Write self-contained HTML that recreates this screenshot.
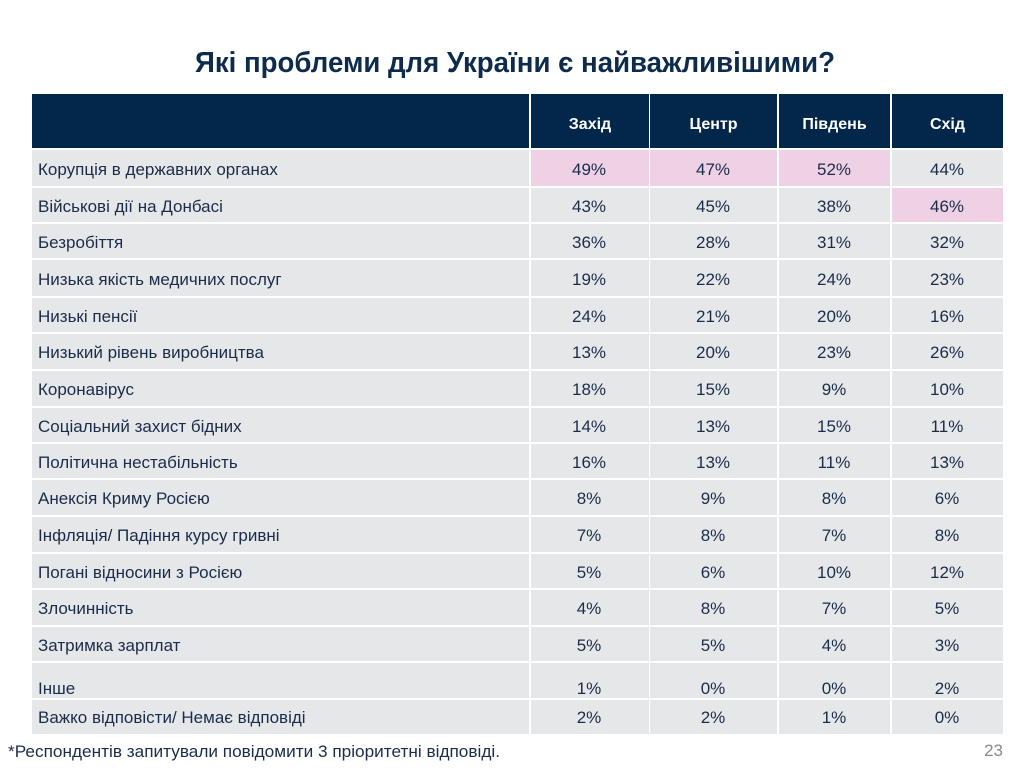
<!DOCTYPE html>
<html><head><meta charset="utf-8">
<style>
html,body{margin:0;padding:0;background:#fff;}
svg{display:block;}
text{font-family:"Liberation Sans","DejaVu Sans",sans-serif;}
</style></head>
<body>
<svg width="1024" height="768" viewBox="0 0 1024 768" xmlns="http://www.w3.org/2000/svg">
<rect width="1024" height="768" fill="#fff"/>
<text x="515" y="72" text-anchor="middle" font-size="29" font-weight="bold" fill="#0c2b4d" textLength="640" lengthAdjust="spacingAndGlyphs">Які проблеми для України є найважливішими?</text>

<!-- header -->
<g fill="#02274b">
<rect x="32" y="94" width="497" height="54"/>
<rect x="531" y="94" width="118" height="54"/>
<rect x="650" y="94" width="127" height="54"/>
<rect x="779" y="94" width="111" height="54"/>
<rect x="892" y="94" width="111" height="54"/>
</g>
<g fill="#fff" font-size="16" font-weight="bold" text-anchor="middle">
<text x="590" y="129">Захід</text>
<text x="713.5" y="129">Центр</text>
<text x="834.5" y="129">Південь</text>
<text x="947.5" y="129">Схід</text>
</g>

<!-- body rows -->
<g id="rows">
</g>
<g fill="#e6e7e9">
<!-- row boundaries: 150,188,224,260,298,334,371,408,444,480,517,554,590,627,663,700,734 -->
<rect x="32" y="150" width="497" height="36"/><rect x="531" y="150" width="118" height="36" fill="#eed1e4"/><rect x="650" y="150" width="127" height="36" fill="#eed1e4"/><rect x="779" y="150" width="111" height="36" fill="#eed1e4"/><rect x="892" y="150" width="111" height="36"/>
<rect x="32" y="188" width="497" height="34"/><rect x="531" y="188" width="118" height="34"/><rect x="650" y="188" width="127" height="34"/><rect x="779" y="188" width="111" height="34"/><rect x="892" y="188" width="111" height="34" fill="#eed1e4"/>
<rect x="32" y="224" width="497" height="34"/><rect x="531" y="224" width="118" height="34"/><rect x="650" y="224" width="127" height="34"/><rect x="779" y="224" width="111" height="34"/><rect x="892" y="224" width="111" height="34"/>
<rect x="32" y="260" width="497" height="36"/><rect x="531" y="260" width="118" height="36"/><rect x="650" y="260" width="127" height="36"/><rect x="779" y="260" width="111" height="36"/><rect x="892" y="260" width="111" height="36"/>
<rect x="32" y="298" width="497" height="34"/><rect x="531" y="298" width="118" height="34"/><rect x="650" y="298" width="127" height="34"/><rect x="779" y="298" width="111" height="34"/><rect x="892" y="298" width="111" height="34"/>
<rect x="32" y="334" width="497" height="35"/><rect x="531" y="334" width="118" height="35"/><rect x="650" y="334" width="127" height="35"/><rect x="779" y="334" width="111" height="35"/><rect x="892" y="334" width="111" height="35"/>
<rect x="32" y="371" width="497" height="35"/><rect x="531" y="371" width="118" height="35"/><rect x="650" y="371" width="127" height="35"/><rect x="779" y="371" width="111" height="35"/><rect x="892" y="371" width="111" height="35"/>
<rect x="32" y="408" width="497" height="34"/><rect x="531" y="408" width="118" height="34"/><rect x="650" y="408" width="127" height="34"/><rect x="779" y="408" width="111" height="34"/><rect x="892" y="408" width="111" height="34"/>
<rect x="32" y="444" width="497" height="34"/><rect x="531" y="444" width="118" height="34"/><rect x="650" y="444" width="127" height="34"/><rect x="779" y="444" width="111" height="34"/><rect x="892" y="444" width="111" height="34"/>
<rect x="32" y="480" width="497" height="35"/><rect x="531" y="480" width="118" height="35"/><rect x="650" y="480" width="127" height="35"/><rect x="779" y="480" width="111" height="35"/><rect x="892" y="480" width="111" height="35"/>
<rect x="32" y="517" width="497" height="35"/><rect x="531" y="517" width="118" height="35"/><rect x="650" y="517" width="127" height="35"/><rect x="779" y="517" width="111" height="35"/><rect x="892" y="517" width="111" height="35"/>
<rect x="32" y="554" width="497" height="34"/><rect x="531" y="554" width="118" height="34"/><rect x="650" y="554" width="127" height="34"/><rect x="779" y="554" width="111" height="34"/><rect x="892" y="554" width="111" height="34"/>
<rect x="32" y="590" width="497" height="35"/><rect x="531" y="590" width="118" height="35"/><rect x="650" y="590" width="127" height="35"/><rect x="779" y="590" width="111" height="35"/><rect x="892" y="590" width="111" height="35"/>
<rect x="32" y="627" width="497" height="34"/><rect x="531" y="627" width="118" height="34"/><rect x="650" y="627" width="127" height="34"/><rect x="779" y="627" width="111" height="34"/><rect x="892" y="627" width="111" height="34"/>
<rect x="32" y="663" width="497" height="35"/><rect x="531" y="663" width="118" height="35"/><rect x="650" y="663" width="127" height="35"/><rect x="779" y="663" width="111" height="35"/><rect x="892" y="663" width="111" height="35"/>
<rect x="32" y="700" width="497" height="34"/><rect x="531" y="700" width="118" height="34"/><rect x="650" y="700" width="127" height="34"/><rect x="779" y="700" width="111" height="34"/><rect x="892" y="700" width="111" height="34"/>
</g>

<g fill="#1b2c4a" font-size="17">
<text x="38" y="175">Корупція в державних органах</text>
<text x="38" y="212">Військові дії на Донбасі</text>
<text x="38" y="248">Безробіття</text>
<text x="38" y="285">Низька якість медичних послуг</text>
<text x="38" y="322">Низькі пенсії</text>
<text x="38" y="358">Низький рівень виробництва</text>
<text x="38" y="395">Коронавірус</text>
<text x="38" y="432">Соціальний захист бідних</text>
<text x="38" y="468">Політична нестабільність</text>
<text x="38" y="504">Анексія Криму Росією</text>
<text x="38" y="541">Інфляція/ Падіння курсу гривні</text>
<text x="38" y="578">Погані відносини з Росією</text>
<text x="38" y="614">Злочинність</text>
<text x="38" y="651">Затримка зарплат</text>
<text x="38" y="694">Інше</text>
<text x="38" y="723">Важко відповісти/ Немає відповіді</text>
</g>

<g fill="#1b2c4a" font-size="17" text-anchor="middle">
<text x="589" y="175">49%</text><text x="713" y="175">47%</text><text x="834" y="175">52%</text><text x="947" y="175">44%</text>
<text x="589" y="212">43%</text><text x="713" y="212">45%</text><text x="834" y="212">38%</text><text x="947" y="212">46%</text>
<text x="589" y="248">36%</text><text x="713" y="248">28%</text><text x="834" y="248">31%</text><text x="947" y="248">32%</text>
<text x="589" y="285">19%</text><text x="713" y="285">22%</text><text x="834" y="285">24%</text><text x="947" y="285">23%</text>
<text x="589" y="322">24%</text><text x="713" y="322">21%</text><text x="834" y="322">20%</text><text x="947" y="322">16%</text>
<text x="589" y="358">13%</text><text x="713" y="358">20%</text><text x="834" y="358">23%</text><text x="947" y="358">26%</text>
<text x="589" y="395">18%</text><text x="713" y="395">15%</text><text x="834" y="395">9%</text><text x="947" y="395">10%</text>
<text x="589" y="432">14%</text><text x="713" y="432">13%</text><text x="834" y="432">15%</text><text x="947" y="432">11%</text>
<text x="589" y="468">16%</text><text x="713" y="468">13%</text><text x="834" y="468">11%</text><text x="947" y="468">13%</text>
<text x="589" y="504">8%</text><text x="713" y="504">9%</text><text x="834" y="504">8%</text><text x="947" y="504">6%</text>
<text x="589" y="541">7%</text><text x="713" y="541">8%</text><text x="834" y="541">7%</text><text x="947" y="541">8%</text>
<text x="589" y="578">5%</text><text x="713" y="578">6%</text><text x="834" y="578">10%</text><text x="947" y="578">12%</text>
<text x="589" y="614">4%</text><text x="713" y="614">8%</text><text x="834" y="614">7%</text><text x="947" y="614">5%</text>
<text x="589" y="651">5%</text><text x="713" y="651">5%</text><text x="834" y="651">4%</text><text x="947" y="651">3%</text>
<text x="589" y="694">1%</text><text x="713" y="694">0%</text><text x="834" y="694">0%</text><text x="947" y="694">2%</text>
<text x="589" y="723">2%</text><text x="713" y="723">2%</text><text x="834" y="723">1%</text><text x="947" y="723">0%</text>
</g>

<text x="8" y="757" font-size="17" fill="#1b2c4a" textLength="492" lengthAdjust="spacingAndGlyphs">*Респондентів запитували повідомити 3 пріоритетні відповіді.</text>
<text x="1003" y="756" font-size="17" fill="#8a8a8a" text-anchor="end">23</text>
</svg>
</body></html>
